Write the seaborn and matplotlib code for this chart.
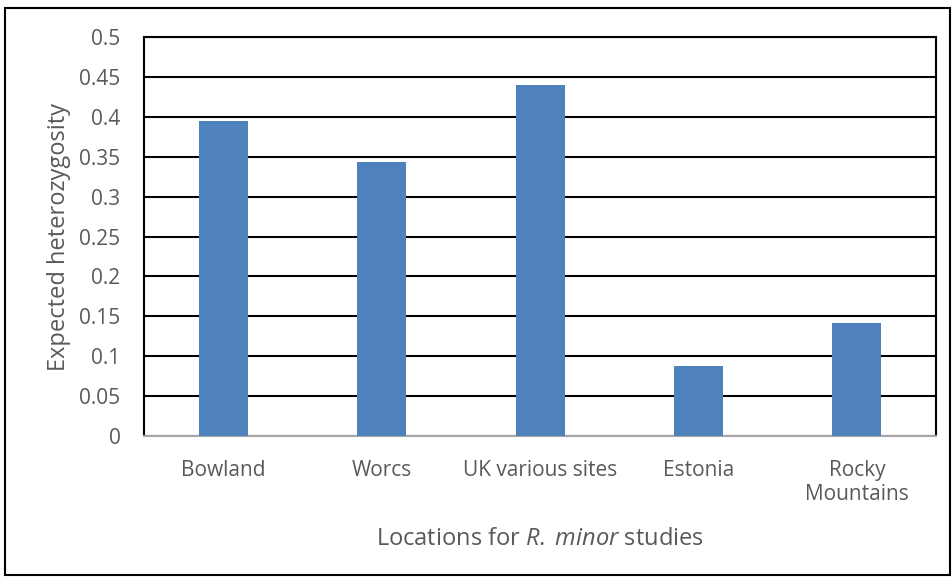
import matplotlib
matplotlib.use("Agg")
import matplotlib.pyplot as plt
import seaborn as sns
from matplotlib.patches import Rectangle

# Dados
locations = ["Bowland", "Worcs", "UK various sites", "Estonia", "Rocky\nMountains"]
heterozygosity = [0.395, 0.344, 0.440, 0.088, 0.142]
y_ticks = [0, 0.05, 0.1, 0.15, 0.2, 0.25, 0.3, 0.35, 0.4, 0.45, 0.5]

BAR_COLOR = "#4F81BD"
TEXT_COLOR = "#595959"

sns.set_theme(style="white")
plt.rcParams["font.family"] = ["Open Sans", "DejaVu Sans"]
plt.rcParams["mathtext.fontset"] = "custom"
plt.rcParams["mathtext.rm"] = "Open Sans"
plt.rcParams["mathtext.it"] = "Open Sans:italic"

fig = plt.figure(figsize=(9.52, 5.79), dpi=100)
ax = fig.add_axes([0.1513, 0.247, 0.832, 0.689])

sns.barplot(x=locations, y=heterozygosity, color=BAR_COLOR, width=0.31,
            saturation=1, linewidth=0, ax=ax, zorder=3)

ax.set_ylim(0, 0.5)
ax.set_yticks(y_ticks)
ax.set_yticklabels([f"{t:g}" for t in y_ticks])
ax.yaxis.grid(True, color="black", linewidth=1.5, zorder=0)
ax.set_axisbelow(True)

for side in ["left", "right", "top"]:
    ax.spines[side].set_color("black")
    ax.spines[side].set_linewidth(1.5)
ax.spines["bottom"].set_color("#A6A6A6")
ax.spines["bottom"].set_linewidth(1.5)

ax.tick_params(axis="both", length=0, labelsize=15, colors=TEXT_COLOR)
ax.tick_params(axis="y", pad=17)
ax.tick_params(axis="x", pad=17)

ax.set_ylabel("Expected heterozygosity", fontsize=17, color=TEXT_COLOR, labelpad=6)
ax.set_xlabel(r"Locations for $\mathit{R.\;minor}$ studies", fontsize=17,
              color=TEXT_COLOR, labelpad=16)

# borda externa do gráfico
fig.patches.append(Rectangle((0.005, 0.007), 0.993, 0.979, transform=fig.transFigure,
                             fill=False, edgecolor="black", linewidth=1.5))

fig.savefig("out.png", dpi=100)
